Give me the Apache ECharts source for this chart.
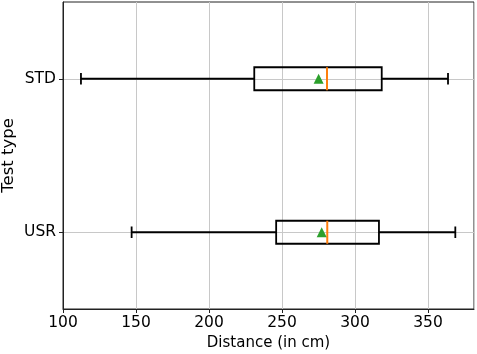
<!DOCTYPE html>
<html>
<head>
<meta charset="utf-8">
<script src="https://cdn.jsdelivr.net/npm/echarts@6/dist/echarts.min.js"></script>
<style>
  html, body { margin: 0; padding: 0; background: #fff; }
  #main { width: 477px; height: 354px; }
</style>
</head>
<body>
<div id="main"></div>
<script>
// test types, bottom to top
const testTypes = ['USR', 'STD'];
// box stats per test type: [min, q1, median, q3, max]
const boxStats = [
  [147, 246, 281, 316.4, 368.7],
  [112.3, 231, 280.8, 318.3, 363.7]
];
const means = [277.2, 275.1];
const xTicks = { min: 100, max: 381.5, interval: 50 };

const chart = echarts.init(document.getElementById('main'));
const font = 'DejaVu Sans';

const boxData = boxStats.map((s, i) => [i].concat(s));
const meanData = means.map((m, i) => [m, i]);

function renderBox(params, api) {
  const cat = api.value(0);
  const band = api.size([0, 1])[1];
  const half = band * 0.15 / 2;
  const capHalf = half / 2;
  const pMin = api.coord([api.value(1), cat]);
  const pQ1 = api.coord([api.value(2), cat]);
  const pMed = api.coord([api.value(3), cat]);
  const pQ3 = api.coord([api.value(4), cat]);
  const pMax = api.coord([api.value(5), cat]);
  const black = { stroke: '#000', lineWidth: 1.8, fill: null };
  return {
    type: 'group',
    children: [
      { type: 'line', shape: { x1: pMin[0], y1: pMin[1], x2: pQ1[0], y2: pQ1[1] }, style: black },
      { type: 'line', shape: { x1: pQ3[0], y1: pQ3[1], x2: pMax[0], y2: pMax[1] }, style: black },
      { type: 'line', shape: { x1: pMin[0], y1: pMin[1] - capHalf, x2: pMin[0], y2: pMin[1] + capHalf }, style: black },
      { type: 'line', shape: { x1: pMax[0], y1: pMax[1] - capHalf, x2: pMax[0], y2: pMax[1] + capHalf }, style: black },
      { type: 'rect', shape: { x: pQ1[0], y: pQ1[1] - half, width: pQ3[0] - pQ1[0], height: half * 2 }, style: black },
      { type: 'line', shape: { x1: pMed[0], y1: pMed[1] - half, x2: pMed[0], y2: pMed[1] + half },
        style: { stroke: '#ff7f0e', lineWidth: 2 } }
    ]
  };
}

const option = {
  animation: false,
  grid: {
    left: 63, right: 3, top: 2, bottom: 45,
    outerBoundsMode: 'none',
    containLabel: false,
    show: true, borderColor: '#222', borderWidth: 1
  },
  xAxis: {
    type: 'value',
    min: xTicks.min,
    max: xTicks.max,
    interval: xTicks.interval,
    name: 'Distance (in cm)',
    nameLocation: 'middle',
    nameGap: 27,
    nameMoveOverlap: false,
    nameTextStyle: { fontFamily: font, fontSize: 15, color: '#000' },
    axisLine: { show: true, lineStyle: { color: '#222', width: 1 } },
    axisTick: { show: true, length: 4, lineStyle: { color: '#222' } },
    axisLabel: { fontFamily: font, fontSize: 15.5, color: '#000', margin: 6, showMaxLabel: false },
    splitLine: { show: true, lineStyle: { color: '#c8c8c8', width: 1 } }
  },
  yAxis: {
    type: 'category',
    data: testTypes,
    boundaryGap: true,
    name: 'Test type',
    nameLocation: 'middle',
    nameGap: 46,
    nameMoveOverlap: false,
    nameTextStyle: { fontFamily: font, fontSize: 16.5, color: '#000' },
    axisLine: { show: true, lineStyle: { color: '#222', width: 1 } },
    axisTick: { show: true, alignWithLabel: true, length: 4, lineStyle: { color: '#222' } },
    axisLabel: { fontFamily: font, fontSize: 15.5, color: '#000', margin: 7 },
    splitLine: { show: true, alignWithLabel: true, lineStyle: { color: '#c8c8c8', width: 1 } }
  },
  series: [
    {
      type: 'custom',
      name: 'box',
      renderItem: renderBox,
      encode: { x: [1, 2, 3, 4, 5], y: 0 },
      data: boxData,
      z: 3
    },
    {
      type: 'scatter',
      name: 'mean',
      symbol: 'triangle',
      symbolSize: 10,
      itemStyle: { color: '#2ca02c', opacity: 1 },
      data: meanData,
      z: 4
    }
  ]
};

chart.setOption(option);
</script>
</body>
</html>
